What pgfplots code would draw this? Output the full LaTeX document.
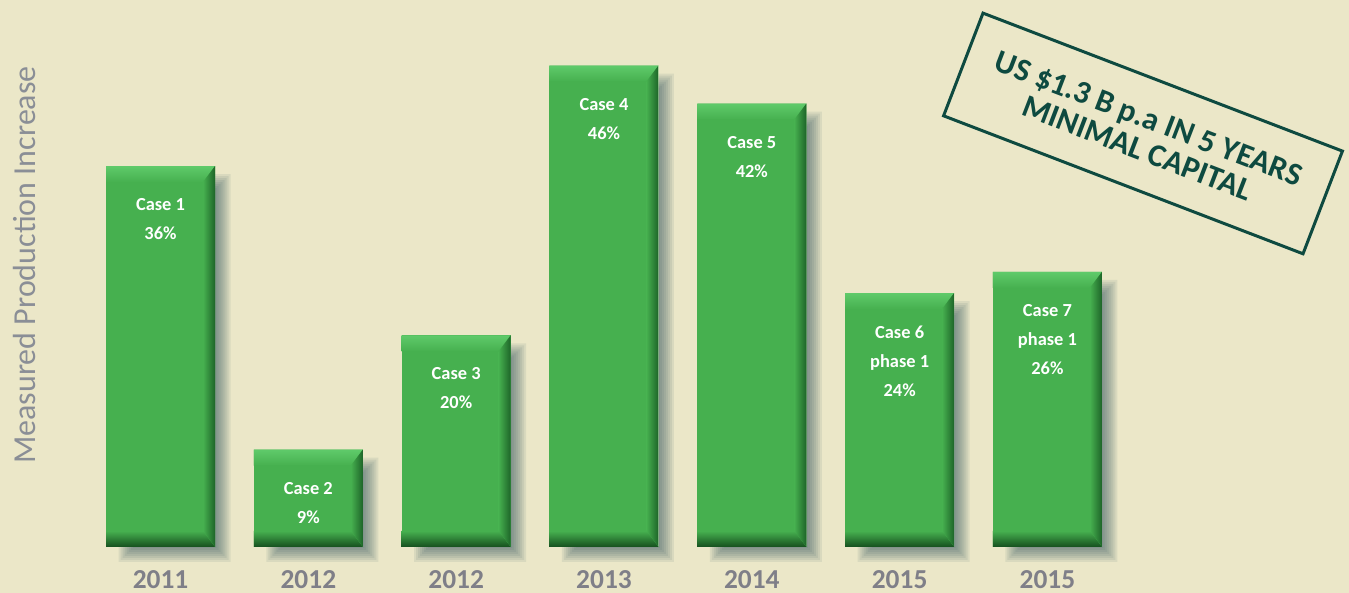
\documentclass[border=0pt]{standalone}
\usepackage{pgfplots}
\pgfplotsset{compat=1.18}
\usepackage{fontspec}
\setmainfont{Carlito}

\definecolor{bg}{HTML}{EBE7C8}
\definecolor{gmain}{HTML}{46B04F}
\definecolor{gtop}{HTML}{5FCA6A}
\definecolor{gright}{HTML}{1D6428}
\definecolor{gbot}{HTML}{154F1E}
\definecolor{shcol}{HTML}{28505A}
\definecolor{tickgray}{HTML}{7F7F88}
\definecolor{labgray}{HTML}{8A8E96}
\definecolor{stamp}{HTML}{0E4A40}

% bevel, soft shadow and label of one bar, drawn at its top point
\newcommand\drawbevel{%
  \pgfmathsetlengthmacro\hh{\ry*5.29014pt}%
  \foreach \k in {0,...,7}{%
    \fill[shcol, opacity=0.09]
      (27.25pt,{-11pt+\k*1pt}) -- ({28pt+\k*1pt},{-11pt+\k*1pt}) -- ({28pt+\k*1pt},{-\hh-0.5pt-\k*1pt})
      -- ({-14pt-\k*1pt},{-\hh-0.5pt-\k*1pt}) -- ({-14pt-\k*1pt},-\hh) -- (27.25pt,-\hh) -- cycle;
  }%
  \fill[top color=gtop, bottom color=gmain] (-27.25pt,0pt) -- (27.25pt,0pt) -- (21.25pt,-8pt) -- (-27.25pt,-8pt) -- cycle;
  \fill[left color=gmain, right color=gright] (21.25pt,-8pt) -- (27.25pt,0pt) -- (27.25pt,-\hh) -- (21.25pt,{-\hh+8pt}) -- cycle;
  \fill[top color=gmain, bottom color=gbot] (-27.25pt,{-\hh+8pt}) -- (21.25pt,{-\hh+8pt}) -- (27.25pt,-\hh) -- (-27.25pt,-\hh) -- cycle;
  \node[anchor=north, inner sep=0pt, align=center, text=white,
        font=\bfseries\fontsize{9.2}{14.5}\selectfont] at (0pt,-16pt) {\pgfplotspointmeta};
}

\pgfplotsset{
  gbar/.style={ybar, bar shift=0pt, bar width=54.5pt, fill=gmain, draw=none,
    scatter, mark=text, text mark={}, mark options={draw=none, fill=none},
    point meta=explicit symbolic,
    visualization depends on={rawy \as \ry},
    scatter/@pre marker code/.code={\drawbevel},
    scatter/@post marker code/.code={}},
}

\begin{document}
\begin{tikzpicture}
\path[use as bounding box, fill=bg] (0,-23pt) rectangle (674.5pt,273.5pt);
\begin{axis}[
    at={(0,0)}, anchor=south west,
    scale only axis, width=674.5pt, height=273.5pt,
    xmin=-1.086, xmax=8.04, ymin=0, ymax=51.7,
    axis line style={draw=none}, tick style={draw=none},
    ytick=\empty,
    xtick={0,1,2,3,4,5,6},
    xticklabels={2011,2012,2012,2013,2014,2015,2015},
    xticklabel style={font=\bfseries\fontsize{13.7}{16}\selectfont, text=tickgray, inner sep=0pt, yshift=-11.5pt},
    clip=false,
]
\addplot[gbar] coordinates {(0,36) [Case 1\\36\%]};
\addplot[gbar] coordinates {(1,9.2) [Case 2\\9\%]};
\addplot[gbar] coordinates {(2,20) [Case 3\\20\%]};
\addplot[gbar] coordinates {(3,45.5) [Case 4\\46\%]};
\addplot[gbar] coordinates {(4,41.9) [Case 5\\42\%]};
\addplot[gbar] coordinates {(5,24) [Case 6\\phase 1\\24\%]};
\addplot[gbar] coordinates {(6,26) [Case 7\\phase 1\\26\%]};

\node[rotate=90, text=labgray, font=\fontsize{16}{19}\selectfont] at (rel axis cs:0.0185,0.5155) {Measured Production Increase};

\node[rotate=-21, draw=stamp, line width=1.5pt, text=stamp, align=center,
      minimum width=192.5pt, minimum height=55pt, inner sep=0pt,
      font=\bfseries\fontsize{16}{16}\selectfont]
  at (rel axis cs:0.8473,0.756) {US \$1.3 B p.a IN 5 YEARS\\MINIMAL CAPITAL};
\end{axis}
\end{tikzpicture}
\end{document}
